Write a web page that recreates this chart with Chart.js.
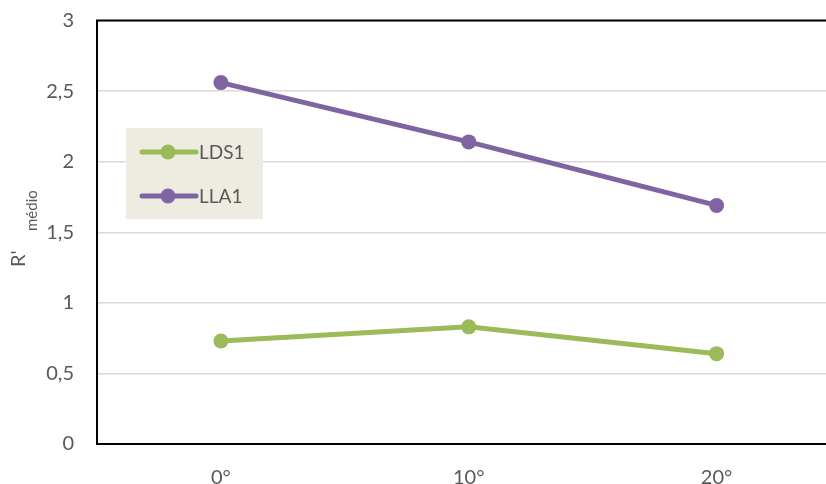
<!DOCTYPE html>
<html>
<head>
<meta charset="utf-8">
<script src="https://cdn.jsdelivr.net/npm/chart.js@4"></script>
<style>
  html, body { margin: 0; padding: 0; background: #fff; overflow: hidden; width: 826px; height: 484px; }
  #wrap { position: absolute; left: 0; top: 0; width: 848px; height: 484px; }
</style>
</head>
<body>
<div id="wrap"><canvas id="c" width="848" height="484"></canvas></div>
<script>
// Angles on the x axis
const categories = ['0°', '10°', '20°'];
// Mean R' per sample
const lds1 = [0.73, 0.83, 0.64];
const lla1 = [2.56, 2.14, 1.69];
const yTicks = [0, 0.5, 1, 1.5, 2, 2.5, 3];

const FONT = 'Lato, "Open Sans", sans-serif';
const TEXT = '#595959';

// Frame (top line), rotated axis title with subscript and the boxed legend
const extras = {
  id: 'extras',
  afterDraw(chart) {
    const { ctx, chartArea: a } = chart;
    ctx.save();
    ctx.strokeStyle = '#000';
    ctx.lineWidth = 2;
    ctx.beginPath();
    ctx.moveTo(a.left - 1, a.top);
    ctx.lineTo(a.right, a.top);
    ctx.stroke();
    ctx.restore();

    // axis title R' with subscript "médio"
    ctx.save();
    ctx.fillStyle = TEXT;
    ctx.textBaseline = 'alphabetic';
    ctx.textAlign = 'left';
    ctx.translate(25, 267);
    ctx.rotate(-Math.PI / 2);
    ctx.font = '20px ' + FONT;
    ctx.fillText("R'", 0, 0);
    ctx.font = '15px ' + FONT;
    ctx.fillText('médio', 36, 12);
    ctx.restore();

    // legend
    ctx.save();
    const bx = 126, by = 128, bw = 137, bh = 91;
    ctx.fillStyle = '#EEECE1';
    ctx.fillRect(bx, by, bw, bh);
    const rows = [152, 196];
    chart.data.datasets.forEach((ds, i) => {
      const y = rows[i];
      ctx.strokeStyle = ds.borderColor;
      ctx.lineWidth = 5;
      ctx.lineCap = 'round';
      ctx.beginPath();
      ctx.moveTo(142, y);
      ctx.lineTo(196, y);
      ctx.stroke();
      ctx.fillStyle = ds.borderColor;
      ctx.beginPath();
      ctx.arc(168, y, 7.5, 0, Math.PI * 2);
      ctx.fill();
      ctx.fillStyle = TEXT;
      ctx.font = '19px ' + FONT;
      ctx.textAlign = 'left';
      ctx.textBaseline = 'middle';
      ctx.fillText(ds.label, 199, y + 1);
    });
    ctx.restore();
  }
};

new Chart(document.getElementById('c'), {
  type: 'line',
  data: {
    labels: categories,
    datasets: [
      { label: 'LDS1', data: lds1, borderColor: '#9BBB59', backgroundColor: '#9BBB59',
        borderWidth: 5, pointRadius: 7.5, pointBorderWidth: 0, pointHoverRadius: 7.5 },
      { label: 'LLA1', data: lla1, borderColor: '#8064A2', backgroundColor: '#8064A2',
        borderWidth: 5, pointRadius: 7.5, pointBorderWidth: 0, pointHoverRadius: 7.5 }
    ]
  },
  options: {
    responsive: false,
    animation: false,
    layout: { padding: { top: 20.5, right: 0.5, left: 0, bottom: 0 } },
    plugins: { legend: { display: false }, tooltip: { enabled: false } },
    scales: {
      x: {
        offset: true,
        grid: { display: false, drawTicks: false },
        border: { display: true, color: '#000', width: 2 },
        ticks: { color: TEXT, font: { family: FONT, size: 20 }, padding: 22 },
        afterFit(s) { s.height = 40; s.paddingLeft = 0; s.paddingRight = 0; }
      },
      y: {
        min: 0, max: 3,
        afterBuildTicks(s) { s.ticks = yTicks.map(v => ({ value: v })); },
        grid: { color: '#D9D9D9', lineWidth: 1.5, drawTicks: false },
        border: { display: true, color: '#000', width: 2 },
        ticks: {
          color: TEXT, font: { family: FONT, size: 20 }, padding: 23,
          callback: v => String(v).replace('.', ',')
        },
        afterFit(s) { s.width = 97; s.paddingTop = 0; s.paddingBottom = 0; }
      }
    }
  },
  plugins: [extras]
});
</script>
</body>
</html>
